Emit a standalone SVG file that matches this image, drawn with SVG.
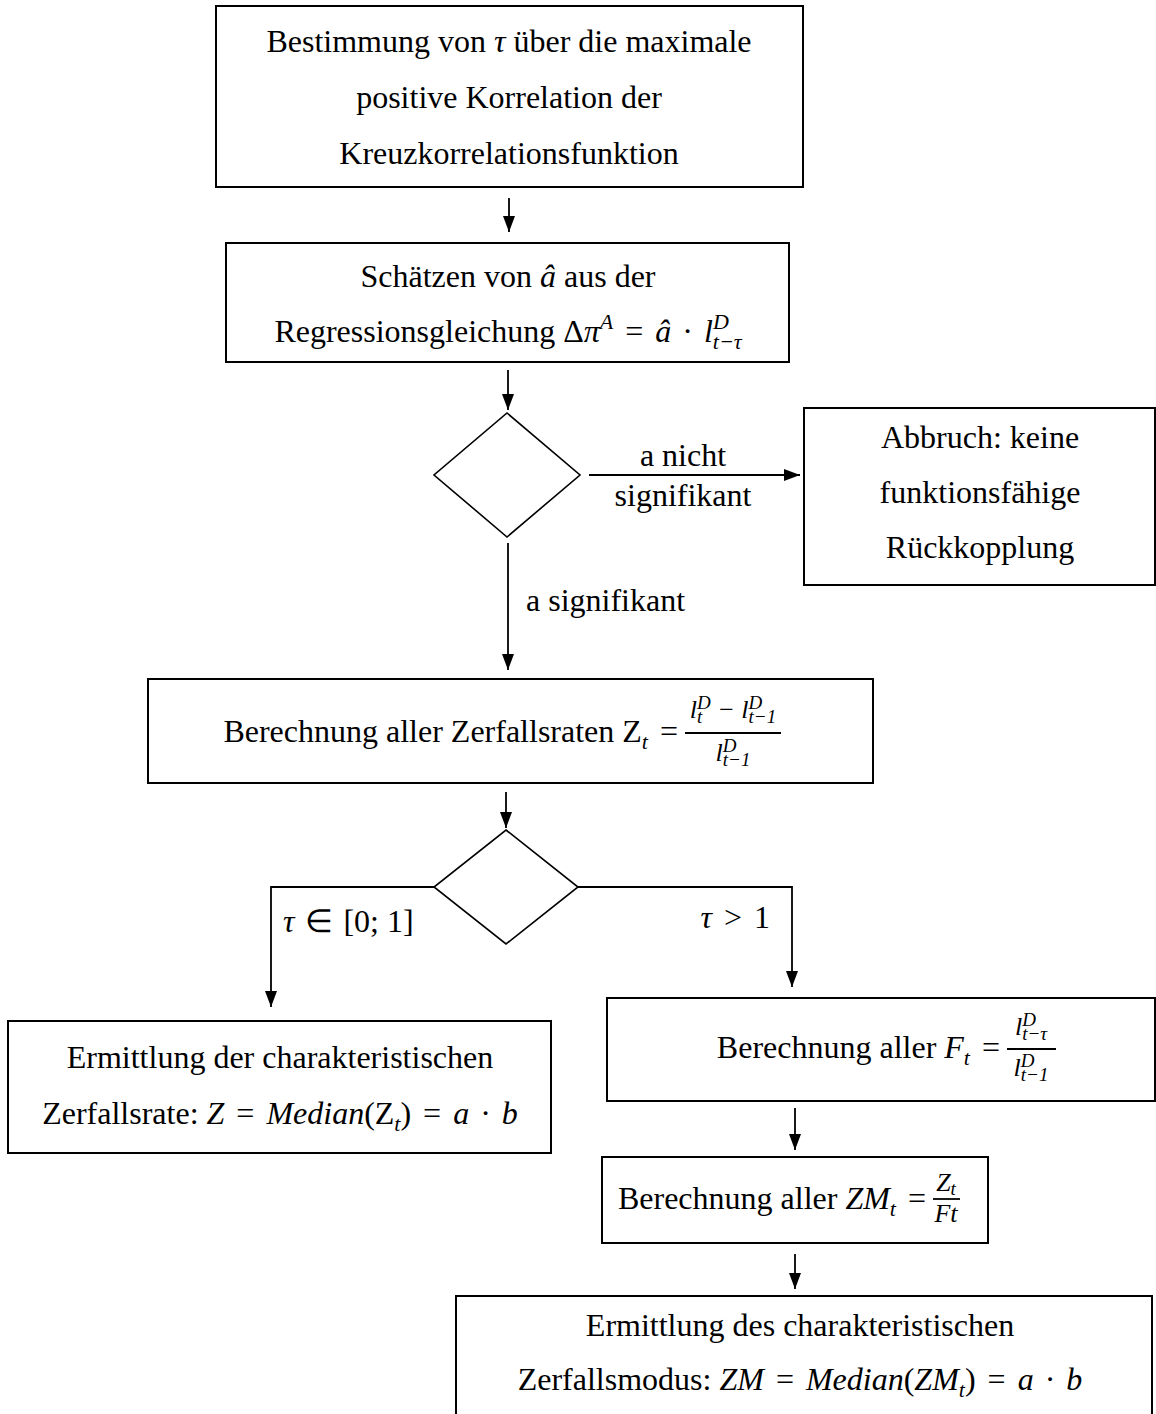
<svg xmlns="http://www.w3.org/2000/svg" width="1156" height="1414" viewBox="0 0 1156 1414">
<defs>
<style>
text { font-family: "Liberation Serif", "Times New Roman", serif; font-size: 32px; fill: #000; }
.c { text-anchor: middle; }
.e { text-anchor: end; }
.m { font-style: italic; }
.s { font-size: 22px; }
.f { font-size: 26px; }
.fs { font-size: 19px; }
.box { fill: #fff; stroke: #000; stroke-width: 2; }
.dia { fill: #fff; stroke: #000; stroke-width: 1.6; }
.conn path { stroke: #000; stroke-width: 1.8; fill: none; marker-end: url(#ah); }
.bar { stroke: #000; stroke-width: 1.8; }
</style>
<marker id="ah" viewBox="0 0 16 12" refX="16" refY="6" markerWidth="16" markerHeight="12" markerUnits="userSpaceOnUse" orient="auto">
<path d="M0,0 L16,6 L0,12 z" fill="#000"/>
</marker>
</defs>
<rect width="1156" height="1414" fill="#fff"/>

<g id="connectors" class="conn">
<path d="M509,198 V232"/>
<path d="M508,370 V410"/>
<path d="M589,475 H800"/>
<path d="M508,543 V670"/>
<path d="M506,792 V828"/>
<path d="M434,887 H271 V1007"/>
<path d="M578,887 H792 V987"/>
<path d="M795,1108 V1150"/>
<path d="M795,1254 V1289"/>
</g>

<g id="edge-labels">
<text class="c" x="683" y="466">a nicht</text>
<text class="c" x="683" y="506">signifikant</text>
<text x="526" y="611">a signifikant</text>
<text x="283" y="932"><tspan class="m">τ</tspan><tspan dx="3"> ∈ </tspan><tspan dx="2">[0; 1]</tspan></text>
<text class="e" x="770" y="928"><tspan class="m">τ</tspan><tspan dx="4"> &gt; </tspan><tspan dx="4">1</tspan></text>
</g>

<g id="n1">
<rect class="box" x="216" y="6" width="587" height="181"/>
<text class="c" x="509" y="52">Bestimmung von <tspan class="m">τ</tspan> über die maximale</text>
<text class="c" x="509" y="108">positive Korrelation der</text>
<text class="c" x="509" y="164">Kreuzkorrelationsfunktion</text>
</g>

<g id="n2">
<rect class="box" x="226" y="243" width="563" height="119"/>
<text class="c" x="508" y="287">Schätzen von <tspan class="m">â</tspan> aus der</text>
<text class="c" x="508" y="342">Regressionsgleichung Δ<tspan class="m">π</tspan><tspan class="m s" dy="-13">A</tspan><tspan dy="13" dx="4"> = </tspan><tspan class="m" dx="4">â</tspan><tspan dx="3"> · </tspan><tspan class="m" dx="3">l</tspan><tspan class="m s" dy="-13">D</tspan><tspan class="m s" dx="-16" dy="20">t−τ</tspan></text>
</g>

<g id="d1">
<polygon class="dia" points="507,413 580,475 507,537 434,475"/>
</g>

<g id="n3">
<rect class="box" x="804" y="408" width="351" height="177"/>
<text class="c" x="980" y="448">Abbruch: keine</text>
<text class="c" x="980" y="503">funktionsfähige</text>
<text class="c" x="980" y="558">Rückkopplung</text>
</g>

<g id="n4">
<rect class="box" x="148" y="679" width="725" height="104"/>
<text class="e" x="678" y="742">Berechnung aller Zerfallsraten Z<tspan class="m s" dy="7">t</tspan><tspan dy="-7" dx="4"> =</tspan></text>
<line class="bar" x1="685" y1="733" x2="781" y2="733"/>
<text class="m f c" x="733" y="718">l<tspan class="fs" dy="5">t</tspan><tspan class="fs" dx="-5.3" dy="-14">D</tspan><tspan dy="9"> − l</tspan><tspan class="fs" dy="-9">D</tspan><tspan class="fs" dx="-13.7" dy="14">t−1</tspan></text>
<text class="m f c" x="733" y="761">l<tspan class="fs" dy="-9">D</tspan><tspan class="fs" dx="-13.7" dy="14">t−1</tspan></text>
</g>

<g id="d2">
<polygon class="dia" points="506,830 578,887 506,944 434,887"/>
</g>

<g id="n5">
<rect class="box" x="8" y="1021" width="543" height="132"/>
<text class="c" x="280" y="1068">Ermittlung der charakteristischen</text>
<text class="c" x="280" y="1124">Zerfallsrate: <tspan class="m">Z</tspan><tspan dx="4"> = </tspan><tspan class="m" dx="4">Median</tspan>(Z<tspan class="m s" dy="7">t</tspan><tspan dy="-7">)</tspan><tspan dx="4"> = </tspan><tspan class="m" dx="4">a</tspan><tspan dx="3"> · </tspan><tspan class="m" dx="3">b</tspan></text>
</g>

<g id="n6">
<rect class="box" x="607" y="998" width="548" height="103"/>
<text class="e" x="1000" y="1058">Berechnung aller <tspan class="m">F</tspan><tspan class="m s" dy="7">t</tspan><tspan dy="-7" dx="4"> =</tspan></text>
<line class="bar" x1="1007" y1="1049" x2="1056" y2="1049"/>
<text class="m f c" x="1031" y="1035">l<tspan class="fs" dy="-9">D</tspan><tspan class="fs" dx="-13.7" dy="14">t−τ</tspan></text>
<text class="m f c" x="1031" y="1076">l<tspan class="fs" dy="-9">D</tspan><tspan class="fs" dx="-13.7" dy="14">t−1</tspan></text>
</g>

<g id="n7">
<rect class="box" x="602" y="1157" width="386" height="86"/>
<text class="e" x="926" y="1209">Berechnung aller <tspan class="m">ZM</tspan><tspan class="m s" dy="7">t</tspan><tspan dy="-7" dx="4"> =</tspan></text>
<line class="bar" x1="933" y1="1199" x2="960" y2="1199"/>
<text class="m f c" x="946" y="1191">Z<tspan class="fs" dy="4">t</tspan></text>
<text class="m f c" x="946" y="1222">Ft</text>
</g>

<g id="n8">
<rect class="box" x="456" y="1296" width="696" height="130"/>
<text class="c" x="800" y="1336">Ermittlung des charakteristischen</text>
<text class="c" x="800" y="1390">Zerfallsmodus: <tspan class="m">ZM</tspan><tspan dx="4"> = </tspan><tspan class="m" dx="4">Median</tspan>(<tspan class="m">ZM</tspan><tspan class="m s" dy="7">t</tspan><tspan dy="-7">)</tspan><tspan dx="4"> = </tspan><tspan class="m" dx="4">a</tspan><tspan dx="3"> · </tspan><tspan class="m" dx="3">b</tspan></text>
</g>
</svg>
